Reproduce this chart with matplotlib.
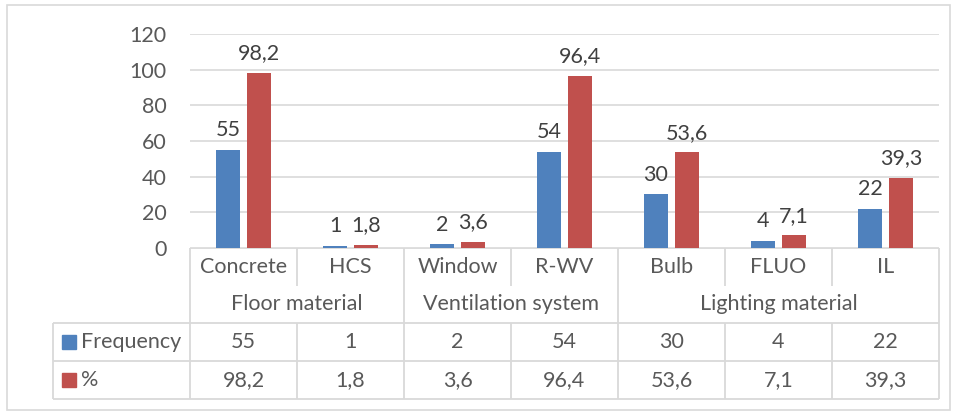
import matplotlib.pyplot as plt
from matplotlib.patches import Rectangle

categories = ['Concrete', 'HCS', 'Window', 'R-WV', 'Bulb', 'FLUO', 'IL']
groups = ['Floor material', 'Ventilation system', 'Lighting material']
group_sizes = [2, 2, 3]
frequency = [55, 1, 2, 54, 30, 4, 22]
percent = [98.2, 1.8, 3.6, 96.4, 53.6, 7.1, 39.3]
series_names = ['Frequency', '%']

blue = '#4F81BD'
red = '#C0504D'
text_c = '#595959'
line_c = '#D9D9D9'

plt.rcParams['font.family'] = ['Lato', 'DejaVu Sans']
plt.rcParams['font.size'] = 15.5

W, H = 956, 412
fig = plt.figure(figsize=(W / 100, H / 100), dpi=100)

# plot area in pixels
x0, x1 = 190, 939
y_top, y_zero = 34, 248
ax = fig.add_axes([x0 / W, 1 - y_zero / H, (x1 - x0) / W, (y_zero - y_top) / H])

def fmt(v):
    s = ('%g' % v)
    return s.replace('.', ',')

xs = list(range(len(categories)))
bw = 0.22
off = 0.145
b1 = ax.bar([x - off for x in xs], frequency, bw, color=blue, zorder=3)
b2 = ax.bar([x + off for x in xs], percent, bw, color=red, zorder=3)
for bars, vals in ((b1, frequency), (b2, percent)):
    for b, v in zip(bars, vals):
        ax.annotate(fmt(v), (b.get_x() + b.get_width() / 2, v), xytext=(0, 7),
                    textcoords='offset points', ha='center', va='bottom',
                    color='#404040')

ax.set_xlim(-0.5, len(categories) - 0.5)
ax.set_ylim(0, 120)
ax.set_yticks(range(0, 121, 20))
ax.yaxis.grid(True, color=line_c, linewidth=1.2, zorder=0)
ax.set_xticks([])
for s in ax.spines.values():
    s.set_visible(False)
ax.tick_params(axis='y', length=0, pad=17, labelcolor=text_c)

# overlay in pixel coordinates for the data table and chart border
ov = fig.add_axes([0, 0, 1, 1], zorder=-1)
ov.set_xlim(0, W)
ov.set_ylim(H, 0)
ov.axis('off')

def hline(xa, xb, y):
    ov.plot([xa, xb], [y, y], color=line_c, lw=1.3, solid_capstyle='butt')

def vline(x, ya, yb):
    ov.plot([x, x], [ya, yb], color=line_c, lw=1.3, solid_capstyle='butt')

ov.add_patch(Rectangle((7, 5), 943, 405, fill=False, edgecolor=line_c, lw=1.2))

cw = (x1 - x0) / len(categories)
r_cat, r_grp, r_f, r_p, r_end = 248, 286, 323, 361, 399
leg_x = 53

hline(x0, x1, r_cat)
hline(leg_x, x1, r_f)
hline(leg_x, x1, r_p)
hline(leg_x, x1, r_end)
vline(x0, r_cat, r_end)
vline(x1, r_cat, r_end)
vline(leg_x, r_f, r_end)
for i in range(1, len(categories)):
    vline(x0 + i * cw, r_cat, r_grp)
    vline(x0 + i * cw, r_f, r_end)
acc = 0
for g, n in zip(groups, group_sizes):
    cx = x0 + (acc + n / 2) * cw
    ov.text(cx, (r_grp + r_f) / 2 - 1, g, ha='center', va='center', color=text_c)
    acc += n
    if acc < len(categories):
        vline(x0 + acc * cw, r_grp, r_f)

for i, c in enumerate(categories):
    cx = x0 + (i + 0.5) * cw
    ov.text(cx, (r_cat + r_grp) / 2, c, ha='center', va='center', color=text_c)
    ov.text(cx, (r_f + r_p) / 2, fmt(frequency[i]), ha='center', va='center', color=text_c)
    ov.text(cx, (r_p + r_end) / 2, fmt(percent[i]), ha='center', va='center', color=text_c)

for (ya, yb), name, col in zip(((r_f, r_p), (r_p, r_end)), series_names, (blue, red)):
    cy = (ya + yb) / 2
    ov.add_patch(Rectangle((62, cy - 7), 14, 14, color=col))
    ov.text(81, cy, name, ha='left', va='center', color=text_c)

fig.savefig('out.png', dpi=100)
